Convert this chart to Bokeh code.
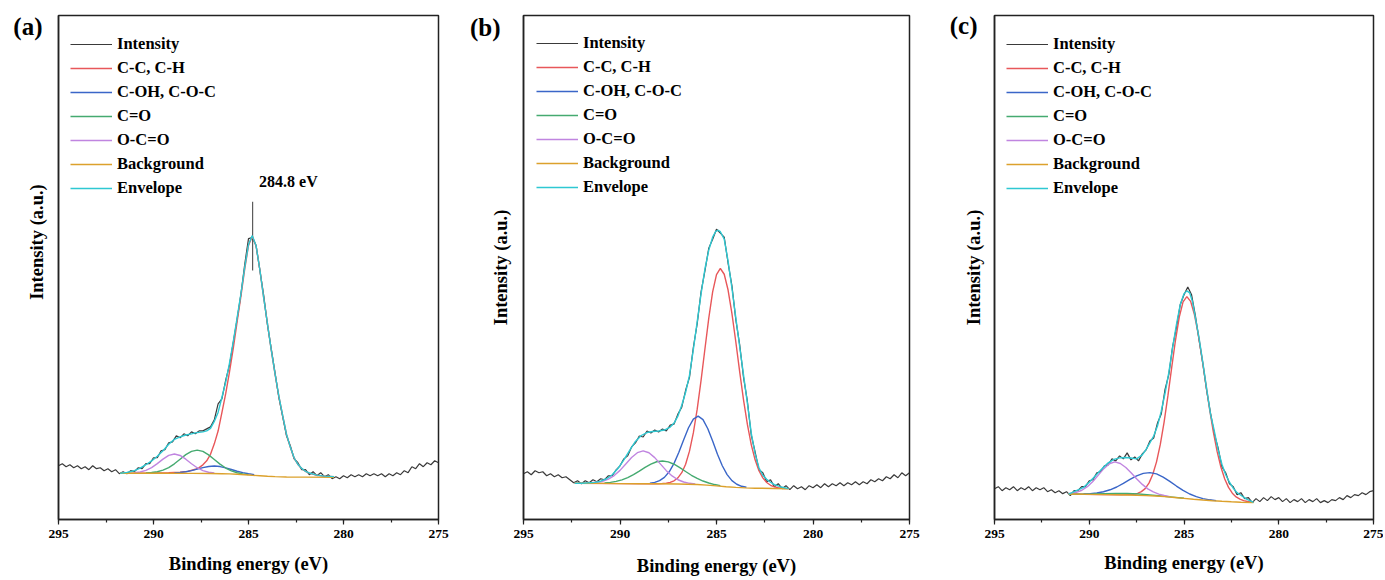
import numpy as np
from bokeh.plotting import figure
from bokeh.layouts import row
from bokeh.models import Range1d, SingleIntervalTicker, FixedTicker, Legend, LegendItem, Label
from bokeh.embed import file_html
from bokeh.resources import INLINE

FONT = "Liberation Serif"

# sampling grid of the measured spectra (binding energy, eV), 0.2 eV steps
BE = np.round(np.linspace(295.0, 275.0, 101), 2)

LEGEND_LABELS = ["Intensity", "C-C, C-H", "C-OH, C-O-C", "C=O", "O-C=O", "Background", "Envelope"]
COLORS = ["#3a3a3a", "#e8575a", "#3a66c8", "#45aa70", "#c085e0", "#dca12c", "#2ec8d2"]

# ---------------- panel (a) ----------------
a_intensity = [54, 56, 53, 55, 52, 54, 51, 53, 50, 54,
               51, 52, 49, 51, 48, 50, 46, 48, 46, 49,
               48, 52, 51, 56, 56, 62, 62, 69, 70, 77,
               78, 84, 82, 86, 84, 88, 86, 89, 89, 91,
               93, 100, 116, 121, 140, 155, 178, 201, 226, 256,
               282, 283, 275, 250, 225, 195, 171, 147, 122, 103,
               84, 74, 61, 57, 50, 50, 45, 48, 44, 47,
               43, 45, 41, 43, 41, 44, 42, 45, 43, 45,
               43, 46, 44, 46, 44, 46, 43, 46, 44, 47,
               45, 49, 47, 53, 51, 56, 53, 57, 55, 59,
               57]
a_spike_x = [284.78, 284.78]
a_spike_y = [319, 250]
a_cc_x = [291.75, 290.0, 289.2, 288.6, 288.2, 287.8, 287.6, 287.4, 287.2, 287.0, 286.8, 286.6, 286.4,
          286.2, 286.0, 285.8, 285.6, 285.4, 285.2, 285.0, 284.8, 284.6, 284.4, 284.2, 284.0, 283.8,
          283.6, 283.4, 283.2, 283.0, 282.8, 282.6, 282.4, 282.2, 282.0, 281.8, 281.4, 281.0, 280.5]
a_cc_y = [46.6, 46.7, 47.0, 47.4, 48.3, 50.4, 52.1, 54.9, 58.9, 65.4, 75.95, 88.8, 107.2,
          126.3, 148.3, 172.1, 198.4, 224.1, 251.4, 275.1, 284.4, 274.5, 250.3, 222.4, 196.3, 169.7,
          145.5, 123.3, 104.0, 85.4, 72.5, 61.8, 55.3, 51.2, 48.3, 46.6, 44.4, 43.4, 42.9]
a_coh_x = [288.9, 288.6, 288.3, 288.0, 287.7, 287.4, 287.1, 286.8, 286.5, 286.2, 285.9, 285.6, 285.3, 285.0, 284.7]
a_coh_y = [46.75, 47.2, 48.0, 49.1, 50.6, 52.1, 53.25, 53.7, 53.15, 51.8, 50.2, 48.4, 47.0, 45.9, 45.0]
a_co_x = [290.4, 290.1, 289.8, 289.5, 289.2, 288.9, 288.6, 288.3, 288.0, 287.7, 287.4, 287.1, 286.8,
          286.5, 286.2, 285.9, 285.6, 285.3, 285.0]
a_co_y = [46.74, 47.13, 47.96, 49.55, 52.1, 55.9, 60.5, 65.1, 68.4, 69.7, 68.4, 64.9, 60.3,
          55.6, 51.7, 48.85, 46.96, 45.83, 45.04]
a_oco_x = [291.0, 290.7, 290.4, 290.1, 289.8, 289.5, 289.2, 288.9, 288.6, 288.3, 288.0, 287.7, 287.4, 287.1, 286.8]
a_oco_y = [46.95, 47.7, 49.3, 52.1, 56.1, 60.6, 64.4, 65.8, 64.3, 60.55, 56.0, 52.0, 49.1, 47.4, 46.65]
a_bg_x = [291.75, 290.0, 288.0, 287.0, 286.4, 286.0, 285.6, 285.2, 284.8, 284.4, 284.0, 283.6, 283.0, 282.0, 280.5]
a_bg_y = [46.5, 46.45, 46.35, 46.2, 46.0, 45.8, 45.5, 45.0, 44.4, 43.9, 43.4, 43.0, 42.7, 42.5, 42.3]
a_env_x = [291.75, 291.4, 291.0, 290.7, 290.4, 290.1, 289.8, 289.5, 289.2, 288.9, 288.6, 288.3, 288.0,
           287.8, 287.6, 287.4, 287.2, 287.0, 286.8, 286.6, 286.4, 286.2, 286.0, 285.8, 285.6, 285.4,
           285.2, 285.0, 284.8, 284.6, 284.4, 284.2, 284.0, 283.8, 283.6, 283.4, 283.2, 283.0, 282.8,
           282.6, 282.4, 282.2, 282.0, 281.8, 281.4, 281.0, 280.5]
a_env_y = [46.5, 47.3, 49.0, 51.5, 55.0, 58.8, 63.5, 69.0, 75.5, 80.5, 83.0, 84.8, 86.0,
           87.0, 87.5, 88.0, 89.0, 91.5, 98.5, 107.5, 122.5, 138.0, 157.0, 178.5, 202.5, 226.5,
           253.0, 276.0, 285.0, 274.8, 250.5, 222.5, 196.5, 170.0, 146.0, 123.5, 104.3, 85.6, 72.7,
           62.0, 55.4, 51.3, 48.4, 46.7, 44.5, 43.5, 43.0]

# ---------------- panel (b) ----------------
b_intensity = [46, 48, 45, 49, 47, 48, 44, 46, 43, 45,
               42, 43, 40, 37, 39, 36, 39, 37, 40, 38,
               41, 40, 44, 44, 50, 54, 61, 64, 73, 77,
               84, 83, 89, 87, 90, 88, 91, 89, 95, 96,
               106, 113, 130, 143, 173, 197, 229, 250, 273, 282,
               292, 288, 284, 258, 235, 201, 176, 143, 119, 85,
               68, 50, 47, 38, 40, 33, 36, 31, 34, 30,
               34, 31, 33, 30, 34, 32, 35, 32, 36, 33,
               36, 34, 37, 34, 37, 35, 38, 35, 38, 36,
               40, 38, 41, 39, 43, 41, 45, 42, 47, 44,
               47]
b_cc_x = [292.35, 290.0, 288.4, 288.0, 287.8, 287.6, 287.4, 287.2, 287.0, 286.8, 286.6, 286.4, 286.2,
          286.0, 285.8, 285.6, 285.4, 285.2, 285.0, 284.8, 284.6, 284.4, 284.2, 284.0, 283.8, 283.6,
          283.4, 283.2, 283.0, 282.8, 282.6, 282.4, 282.2, 282.0, 281.8, 281.5, 281.27]
b_cc_y = [36.4, 36.1, 36.0, 36.0, 36.2, 36.5, 37.3, 38.95, 41.9, 47.1, 55.65, 68.75, 87.05,
          111.0, 139.9, 171.5, 202.55, 229.0, 246.4, 252.5, 246.7, 230.85, 207.1, 178.8, 148.8, 120.4,
          95.65, 75.4, 60.0, 49.15, 41.9, 37.25, 34.4, 32.8, 31.95, 31.25, 31.05]
b_coh_x = [288.45, 288.2, 287.95, 287.7, 287.45, 287.2, 286.95, 286.7, 286.45, 286.2, 285.95, 285.7,
           285.45, 285.2, 284.95, 284.7, 284.45, 284.2, 283.95, 283.7, 283.45]
b_coh_y = [36.55, 37.35, 39.1, 42.35, 48.0, 56.45, 67.6, 80.3, 92.3, 101.0, 104.0, 100.5,
           91.3, 78.9, 65.6, 54.05, 45.2, 39.1, 35.45, 33.4, 32.4]
b_co_x = [290.8, 290.5, 290.2, 289.9, 289.6, 289.3, 289.0, 288.7, 288.4, 288.1, 287.8, 287.5, 287.2,
          286.9, 286.6, 286.3, 286.0, 285.7, 285.4, 285.1, 284.8]
b_co_y = [36.77, 37.35, 38.35, 39.9, 42.2, 45.15, 48.7, 52.5, 55.8, 58.1, 58.9, 58.0, 55.6,
          52.2, 48.25, 44.5, 41.3, 38.7, 36.75, 35.15, 34.07]
b_oco_x = [291.5, 291.2, 290.9, 290.6, 290.3, 290.0, 289.7, 289.4, 289.1, 288.8, 288.5, 288.2, 287.9,
           287.6, 287.3, 287.0, 286.7, 286.4, 286.1]
b_oco_y = [36.95, 37.4, 38.5, 40.6, 44.2, 49.4, 55.9, 62.35, 67.2, 69.0, 67.15, 62.25, 55.7,
           49.15, 43.8, 40.0, 37.7, 36.4, 35.65]
b_bg_x = [292.35, 291.0, 290.0, 289.0, 288.0, 287.0, 286.5, 286.0, 285.5, 285.0, 284.5, 284.0, 283.5,
          283.0, 282.0, 281.27]
b_bg_y = [36.4, 36.3, 36.1, 36.0, 35.9, 35.7, 35.5, 35.2, 34.6, 33.8, 33.0, 32.3, 31.8,
          31.5, 31.2, 31.0]
b_env_x = [292.35, 292.0, 291.6, 291.3, 291.0, 290.7, 290.4, 290.1, 289.8, 289.5, 289.2, 288.9, 288.6,
           288.3, 288.0, 287.7, 287.4, 287.2, 287.0, 286.8, 286.6, 286.4, 286.2, 286.0, 285.8, 285.6,
           285.4, 285.2, 285.05, 284.93, 284.8, 284.6, 284.4, 284.2, 284.0, 283.8, 283.6, 283.4, 283.2,
           283.0, 282.8, 282.6, 282.4, 282.2, 282.0, 281.7, 281.27]
b_env_y = [36.4, 36.5, 36.9, 37.3, 38.5, 41.0, 45.0, 51.5, 60.0, 69.5, 78.5, 84.5, 87.5,
           88.5, 89.0, 90.0, 93.0, 97.0, 104.0, 115.0, 128.0, 145.0, 171.0, 199.0, 227.0, 252.0,
           271.0, 284.0, 289.5, 291.0, 289.5, 282.0, 260.0, 232.6, 203.0, 174.0, 145.5, 117.0, 87.0,
           66.0, 52.0, 44.5, 40.5, 37.5, 35.0, 33.0, 31.0]

# ---------------- panel (c) ----------------
c_intensity = [31, 33, 29, 32, 30, 33, 29, 32, 30, 33,
               29, 32, 30, 32, 28, 30, 27, 29, 26, 28,
               24, 29, 29, 33, 33, 39, 40, 47, 48, 54,
               55, 61, 59, 64, 61, 67, 60, 63, 59, 66,
               70, 79, 82, 97, 106, 131, 146, 174, 193, 216,
               226, 234, 226, 205, 180, 156, 129, 107, 86, 72,
               53, 47, 36, 33, 25, 27, 21, 22, 17, 21,
               18, 22, 19, 23, 20, 22, 18, 21, 17, 20,
               18, 21, 17, 20, 18, 21, 17, 19, 17, 20,
               19, 22, 20, 24, 22, 25, 24, 27, 25, 28,
               29]
c_cc_x = [291.09, 289.5, 288.3, 287.65, 287.45, 287.25, 287.05, 286.85, 286.65, 286.45, 286.25, 286.05,
          285.85, 285.65, 285.45, 285.25, 285.05, 284.85, 284.65, 284.45, 284.25, 284.05, 283.85, 283.65,
          283.45, 283.25, 283.05, 282.85, 282.65, 282.45, 282.25, 282.05, 281.85, 281.65, 281.33]
c_cc_y = [25.6, 25.2, 24.75, 25.3, 26.2, 28.0, 31.1, 36.6, 45.2, 58.0, 75.5, 98.0,
          124.3, 152.8, 180.3, 203.5, 219.0, 224.2, 219.4, 206.2, 186.7, 162.4, 136.6, 111.0,
          88.0, 68.2, 52.6, 40.8, 32.3, 26.5, 22.75, 20.4, 18.95, 18.1, 17.2]
c_coh_x = [290.3, 289.95, 289.6, 289.25, 288.9, 288.55, 288.2, 287.85, 287.5, 287.15, 286.8, 286.45,
           286.1, 285.75, 285.4, 285.05, 284.7, 284.35, 284.0, 283.65, 283.3]
c_coh_y = [25.65, 26.0, 26.66, 27.9, 29.9, 32.7, 36.35, 40.3, 43.9, 46.4, 47.1, 45.85,
           42.7, 38.4, 33.65, 29.3, 25.65, 22.95, 21.06, 19.8, 18.95]
c_co_x = [291.09, 290.4, 289.8, 289.2, 288.6, 288.0, 287.4, 286.8, 286.2, 285.6, 285.0]
c_co_y = [25.65, 25.55, 25.7, 25.95, 26.2, 26.1, 25.6, 24.75, 23.7, 22.55, 21.35]
c_oco_x = [291.09, 290.97, 290.68, 290.39, 290.1, 289.81, 289.52, 289.23, 288.94, 288.65, 288.36, 288.07,
           287.78, 287.49, 287.2, 286.91, 286.62, 286.33, 286.04, 285.75]
c_oco_y = [26.0, 26.35, 27.35, 29.45, 33.0, 38.25, 44.65, 51.15, 56.1, 57.9, 56.35, 52.35,
           46.8, 40.8, 35.3, 30.85, 27.7, 25.55, 24.1, 23.0]
c_bg_x = [291.09, 290.0, 289.0, 288.0, 287.0, 286.5, 286.0, 285.5, 285.0, 284.5, 284.0, 283.5, 283.0,
          282.5, 282.0, 281.33]
c_bg_y = [25.6, 25.3, 25.0, 24.6, 24.0, 23.6, 23.0, 22.2, 21.3, 20.4, 19.6, 18.9, 18.3,
          17.8, 17.4, 17.0]
c_env_x = [291.09, 290.8, 290.5, 290.3, 290.0, 289.8, 289.6, 289.3, 289.0, 288.7, 288.4, 288.1, 287.8,
           287.5, 287.2, 287.0, 286.8, 286.6, 286.4, 286.2, 286.0, 285.8, 285.6, 285.4, 285.2, 285.0,
           284.85, 284.7, 284.55, 284.4, 284.2, 284.0, 283.8, 283.6, 283.4, 283.2, 283.0, 282.8, 282.6,
           282.4, 282.2, 282.0, 281.7, 281.33]
c_env_y = [25.6, 28.0, 30.5, 32.3, 37.5, 41.5, 45.6, 51.5, 57.0, 60.5, 62.0, 62.3, 61.8,
           61.0, 65.0, 70.5, 77.0, 84.0, 94.0, 109.0, 127.0, 148.0, 173.0, 196.0, 216.0, 227.0,
           230.0, 228.0, 219.0, 203.0, 182.0, 157.0, 131.0, 106.0, 89.0, 70.0, 55.6, 45.0, 37.5,
           31.5, 27.0, 24.4, 20.5, 17.3]

Y_LABEL = "Intensity (a.u.)"
NBSP = "\u00a0"


def make_panel(tag, intensity, comps, spike, width, left, right, top, bottom, ymax,
               legend_loc, tag_y, tag_standoff, ylab_standoff, xlab_standoff,
               ylab_shift=0, peak_label=None):
    p = figure(width=width, height=580, x_range=Range1d(295, 275), y_range=Range1d(0, ymax),
               output_backend="svg", toolbar_location=None,
               min_border_left=left, min_border_right=right,
               min_border_top=top, min_border_bottom=bottom)
    p.xgrid.visible = False
    p.ygrid.visible = False
    p.outline_line_color = "#222222"
    p.outline_line_width = 1.5
    p.outline_line_alpha = 1.0

    renderers = [p.line(BE, intensity, color=COLORS[0], line_width=1.2)]
    if spike is not None:
        p.line(spike[0], spike[1], color=COLORS[0], line_width=1.0)
    for (xs, ys), col in zip(comps, COLORS[1:]):
        renderers.append(p.line(xs, ys, color=col, line_width=1.4))

    xa = p.xaxis[0]
    xa.ticker = SingleIntervalTicker(interval=5, num_minor_ticks=2)
    xa.axis_label = "Binding energy (eV)"
    xa.axis_label_text_font = FONT
    xa.axis_label_text_font_style = "bold"
    xa.axis_label_text_font_size = "18.5px"
    xa.axis_label_text_color = "black"
    xa.axis_label_standoff = xlab_standoff
    xa.major_label_text_font = FONT
    xa.major_label_text_font_style = "bold"
    xa.major_label_text_font_size = "13.5px"
    xa.major_label_text_color = "black"
    xa.major_label_standoff = 5
    xa.major_tick_in = 0
    xa.major_tick_out = 5
    xa.minor_tick_in = 0
    xa.minor_tick_out = 3
    xa.axis_line_width = 1.5
    xa.axis_line_color = "#222222"
    xa.major_tick_line_color = "#222222"
    xa.minor_tick_line_color = "#222222"
    xa.major_tick_line_width = 1.2
    xa.minor_tick_line_width = 1.2

    # y axis: no intensity ticks; the panel tag is carried as a single tick label
    ya = p.yaxis[0]
    ya.ticker = FixedTicker(ticks=[tag_y])
    ya.major_label_overrides = {tag_y: tag}
    ya.major_label_text_font = FONT
    ya.major_label_text_font_style = "bold"
    ya.major_label_text_font_size = "25px"
    ya.major_label_text_color = "black"
    ya.major_label_standoff = tag_standoff
    ya.major_tick_in = 0
    ya.major_tick_out = 0
    ya.major_tick_line_color = None
    ya.minor_tick_line_color = None
    ya.axis_label = NBSP * ylab_shift + Y_LABEL
    ya.axis_label_text_font = FONT
    ya.axis_label_text_font_style = "bold"
    ya.axis_label_text_font_size = "18.5px"
    ya.axis_label_text_color = "black"
    ya.axis_label_standoff = ylab_standoff
    ya.axis_line_width = 1.5
    ya.axis_line_color = "#222222"

    legend = Legend(items=[LegendItem(label=l, renderers=[r]) for l, r in zip(LEGEND_LABELS, renderers)],
                    location=legend_loc, padding=0, margin=0, spacing=4,
                    glyph_width=42, glyph_height=20, label_height=20, label_standoff=5,
                    label_text_font=FONT, label_text_font_style="bold", label_text_font_size="16.5px",
                    label_text_color="black", border_line_color=None, background_fill_alpha=0.0)
    p.add_layout(legend)

    if peak_label is not None:
        p.add_layout(Label(x=peak_label[0], y=peak_label[1], text=peak_label[2],
                           text_font=FONT, text_font_style="bold", text_font_size="16px",
                           text_align="center", text_baseline="middle", text_color="black"))
    return p


pa = make_panel("(a)", a_intensity,
                [(a_cc_x, a_cc_y), (a_coh_x, a_coh_y), (a_co_x, a_co_y), (a_oco_x, a_oco_y),
                 (a_bg_x, a_bg_y), (a_env_x, a_env_y)],
                (a_spike_x, a_spike_y),
                width=460, left=58, right=22, top=13, bottom=61, ymax=506,
                legend_loc=(12, 321), tag_y=495, tag_standoff=16, ylab_standoff=-37, xlab_standoff=13,
                ylab_shift=11, peak_label=(282.9, 339, "284.8 eV"))
pb = make_panel("(b)", b_intensity,
                [(b_cc_x, b_cc_y), (b_coh_x, b_coh_y), (b_co_x, b_co_y), (b_oco_x, b_oco_y),
                 (b_bg_x, b_bg_y), (b_env_x, b_env_y)],
                None,
                width=476, left=63, right=27, top=12, bottom=61, ymax=507,
                legend_loc=(13, 322), tag_y=495, tag_standoff=23, ylab_standoff=-44, xlab_standoff=15)
pc = make_panel("(c)", c_intensity,
                [(c_cc_x, c_cc_y), (c_coh_x, c_coh_y), (c_co_x, c_co_y), (c_oco_x, c_oco_y),
                 (c_bg_x, c_bg_y), (c_env_x, c_env_y)],
                None,
                width=447, left=58, right=10, top=15, bottom=58, ymax=507,
                legend_loc=(12, 321), tag_y=497, tag_standoff=17, ylab_standoff=-37, xlab_standoff=12)

layout = row(pa, pb, pc)
open("out.html", "w").write(file_html(layout, INLINE))
